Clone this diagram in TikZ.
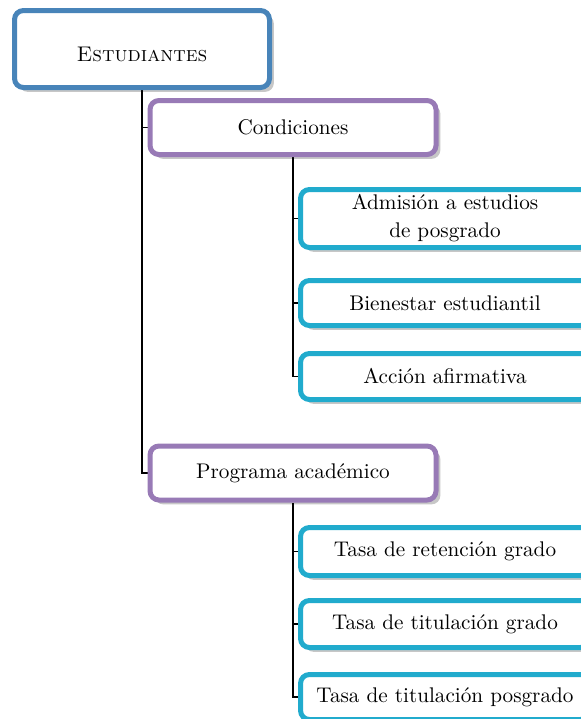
\documentclass[tikz,border=0pt]{standalone}
\usetikzlibrary{shadows,backgrounds}
\definecolor{cblue}{RGB}{72,132,185}
\definecolor{cpurple}{RGB}{152,122,182}
\definecolor{ccyan}{RGB}{33,171,205}
\begin{document}
\begin{tikzpicture}[x=0.5pt,y=-0.5pt,
  every node/.style={font=\fontsize{10.6}{14}\selectfont},
  base/.style={rectangle, rounded corners=4.5pt, line width=2.5pt, fill=white, inner sep=0pt, align=center,
    drop shadow={shadow xshift=2.2pt, shadow yshift=-2.2pt, fill=black, opacity=0.22}},
  rootbox/.style={base, draw=cblue, minimum width=127.5pt, minimum height=38.5pt},
  midbox/.style={base, draw=cpurple, minimum width=143pt, minimum height=27pt},
  leafbox/.style={base, draw=ccyan, minimum width=144.5pt},
  conn/.style={line width=0.75pt, black}]
\useasboundingbox (0,0) rectangle (581,719);
\clip (0,0) rectangle (581,719);
\node[rootbox, text height=12pt, text depth=0pt] (root) at (142,49) {\textsc{Estudiantes}};
\node[midbox] (cond) at (293,127.5) {Condiciones};
\node[midbox] (prog) at (293,473) {Programa académico};
\node[leafbox, minimum height=29pt] (adm) at (445,218.5) {Admisión a estudios\\de posgrado};
\node[leafbox, minimum height=22.5pt] (bie) at (445,303) {Bienestar estudiantil};
\node[leafbox, minimum height=23pt] (acc) at (445,376.5) {Acción afirmativa};
\node[leafbox, minimum height=24pt] (ret) at (445,551.5) {Tasa de retención grado};
\node[leafbox, minimum height=23.5pt] (gra) at (445,624) {Tasa de titulación grado};
\node[leafbox, minimum height=22.5pt] (pos) at (445,697) {Tasa de titulación posgrado};
\begin{scope}[on background layer]
\draw[conn] (root.south) |- (prog.west);
\draw[conn] (root.south |- cond.west) -- (cond.west);
\draw[conn] (cond.south) |- (acc.west);
\draw[conn] (cond.south |- adm.west) -- (adm.west);
\draw[conn] (cond.south |- bie.west) -- (bie.west);
\draw[conn] (prog.south) |- (pos.west);
\draw[conn] (prog.south |- ret.west) -- (ret.west);
\draw[conn] (prog.south |- gra.west) -- (gra.west);
\end{scope}
\end{tikzpicture}
\end{document}
